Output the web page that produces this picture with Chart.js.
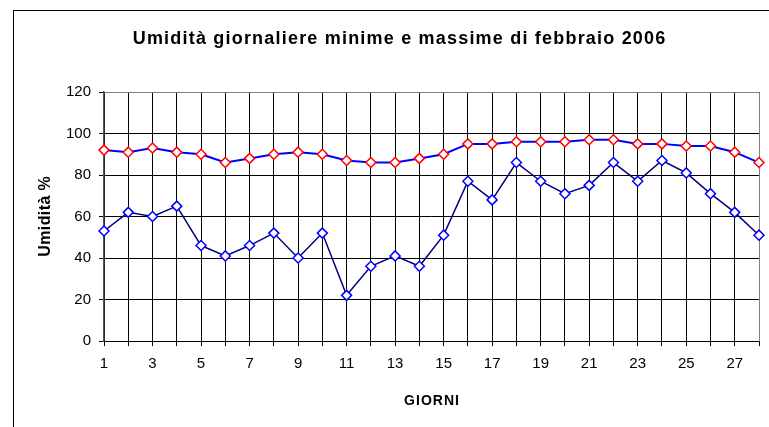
<!DOCTYPE html>
<html>
<head>
<meta charset="utf-8">
<script src="https://cdn.jsdelivr.net/npm/chart.js@4"></script>
<style>
  html, body { margin: 0; padding: 0; background: #ffffff; }
  canvas { display: block; }
</style>
</head>
<body>
<canvas id="c" width="769" height="427"></canvas>
<script>
// ---- data ----
const days = ['1','2','3','4','5','6','7','8','9','10','11','12','13','14','15','16','17','18','19','20','21','22','23','24','25','26','27','28'];
const humidityMax = [92, 91, 93, 91, 90, 86, 88, 90, 91, 90, 87, 86, 86, 88, 90, 95, 95, 96, 96, 96, 97, 97, 95, 95, 94, 94, 91, 86];
const humidityMin = [53, 62, 60, 65, 46, 41, 46, 52, 40, 52, 22, 36, 41, 36, 51, 77, 68, 86, 77, 71, 75, 86, 77, 87, 81, 71, 62, 51];
const yTicks = [0, 20, 40, 60, 80, 100, 120];
const chartTitle = 'Umidità giornaliere minime e massime di febbraio 2006';
const yTitle = 'Umidità %';
const xTitle = 'GIORNI';

const FONT = "'Liberation Sans', Arial, sans-serif";

function spacedText(ctx, text, x, y, font, spacing, rotate) {
  ctx.save();
  ctx.font = font;
  ctx.fillStyle = '#000000';
  ctx.textAlign = 'center';
  ctx.textBaseline = 'alphabetic';
  if ('letterSpacing' in ctx) ctx.letterSpacing = spacing + 'px';
  ctx.translate(x, y);
  if (rotate) ctx.rotate(-Math.PI / 2);
  ctx.fillText(text, spacing / 2, 0);
  ctx.restore();
}

const framePlugin = {
  id: 'frame',
  beforeDraw(chart) {
    const ctx = chart.ctx;
    ctx.save();
    ctx.fillStyle = '#ffffff';
    ctx.fillRect(0, 0, chart.width, chart.height);
    ctx.strokeStyle = '#000000';
    ctx.lineWidth = 1;
    ctx.strokeRect(13.5, 10.5, 900, 600);
    ctx.restore();
  },
  beforeDatasetsDraw(chart) {
    const {ctx, chartArea} = chart;
    ctx.save();
    ctx.strokeStyle = '#808080';
    ctx.lineWidth = 1;
    ctx.beginPath();
    ctx.moveTo(Math.round(chartArea.left) + 0.5, Math.round(chartArea.top) + 0.5);
    ctx.lineTo(Math.round(chartArea.right) + 0.5, Math.round(chartArea.top) + 0.5);
    ctx.lineTo(Math.round(chartArea.right) + 0.5, Math.round(chartArea.bottom) + 0.5);
    ctx.stroke();
    ctx.restore();
  },
  afterDraw(chart) {
    const ctx = chart.ctx;
    const ca = chart.chartArea;
    spacedText(ctx, chartTitle, 399, 44, "bold 18px " + FONT, 1.2, false);
    spacedText(ctx, xTitle, (ca.left + ca.right) / 2, 405, "bold 14px " + FONT, 1, false);
    spacedText(ctx, yTitle, 50, (ca.top + ca.bottom) / 2, "bold 16px " + FONT, 0.4, true);
  }
};

new Chart(document.getElementById('c'), {
  type: 'line',
  data: {
    labels: days,
    datasets: [
      {
        label: 'Max',
        data: humidityMax,
        borderColor: '#0000FF',
        borderWidth: 2,
        pointStyle: 'rectRot',
        pointRadius: 5,
        pointBackgroundColor: '#ffffff',
        pointBorderColor: '#FF0000',
        pointBorderWidth: 1.5,
        tension: 0,
        fill: false
      },
      {
        label: 'Min',
        data: humidityMin,
        borderColor: '#000080',
        borderWidth: 1.5,
        pointStyle: 'rectRot',
        pointRadius: 5,
        pointBackgroundColor: '#ffffff',
        pointBorderColor: '#0000FF',
        pointBorderWidth: 1.5,
        tension: 0,
        fill: false
      }
    ]
  },
  options: {
    responsive: false,
    animation: false,
    devicePixelRatio: 1,
    layout: { padding: { left: 30, right: 10, top: 92, bottom: 0 } },
    plugins: {
      legend: { display: false },
      tooltip: { enabled: false },
      title: { display: false }
    },
    scales: {
      x: {
        type: 'category',
        offset: false,
        afterFit(scale) { scale.height = 86; },
        grid: {
          display: true,
          color: '#000000',
          lineWidth: 1,
          offset: false,
          drawTicks: true,
          tickLength: 5,
          tickColor: '#000000'
        },
        border: { display: true, color: '#000000', width: 1 },
        ticks: {
          autoSkip: false,
          maxRotation: 0,
          minRotation: 0,
          padding: 9,
          color: '#000000',
          font: { family: FONT, size: 15 },
          callback(value, index) { return index % 2 === 0 ? days[index] : ''; }
        },
        title: { display: false }
      },
      y: {
        min: 0,
        max: 120,
        afterFit(scale) { scale.width = 74; },
        afterBuildTicks(scale) { scale.ticks = yTicks.map(v => ({ value: v })); },
        grid: {
          display: true,
          color: '#000000',
          lineWidth: 1,
          drawTicks: true,
          tickLength: 5,
          tickColor: '#000000'
        },
        border: { display: true, color: '#555555', width: 1.5 },
        ticks: {
          padding: 8,
          color: '#000000',
          font: { family: FONT, size: 15 }
        },
        title: { display: false }
      }
    }
  },
  plugins: [framePlugin]
});
</script>
</body>
</html>
